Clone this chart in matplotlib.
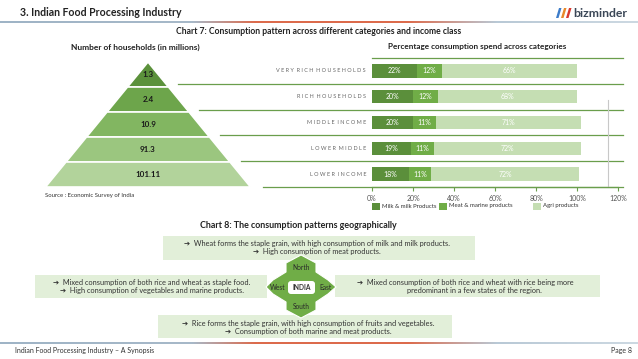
import numpy as np
import matplotlib
matplotlib.use("Agg")
import matplotlib.pyplot as plt
from matplotlib.patches import Polygon, Rectangle, FancyBboxPatch
from matplotlib.colors import LinearSegmentedColormap

plt.rcParams['font.family'] = ['Lato', 'DejaVu Sans']

# ---- data ----
households = [1.3, 2.4, 10.9, 91.3, 101.11]          # top tier first
income_classes = ["VERY RICH HOUSEHOLDS", "RICH HOUSEHOLDS", "MIDDLE INCOME",
                  "LOWER MIDDLE", "LOWER INCOME"]
milk = [22, 20, 20, 19, 18]
meat = [12, 12, 11, 11, 11]
agri = [66, 68, 71, 72, 72]
series_names = ["Milk & milk Products", "Meat & marine products", "Agri products"]
x_ticks = [0, 20, 40, 60, 80, 100, 120]

north_text = ["\u2794  Wheat forms the staple grain, with high consumption of milk and milk products.",
              "\u2794  High consumption of meat products."]
west_text = ["\u2794  Mixed consumption of both rice and wheat as staple food.",
             "\u2794  High consumption of vegetables and marine products."]
east_text = ["\u2794  Mixed consumption of both rice and wheat with rice being more",
             "predominant in a few states of the region."]
south_text = ["\u2794  Rice forms the staple grain, with high consumption of fruits and vegetables.",
              "\u2794  Consumption of both marine and meat products."]

W, H = 638, 359
fig = plt.figure(figsize=(W / 100, H / 100), dpi=100)

# overlay axes in pixel coordinates for the slide furniture
ov = fig.add_axes([0, 0, 1, 1])
ov.axis('off')

# header / footer lines
cmap = LinearSegmentedColormap.from_list(
    "hdr", [(0, "#9fb4c6"), (0.3, "#a7b9c9"), (0.40, "#dc6b4c"),
            (0.64, "#dc6b4c"), (0.78, "#b9c9d6"), (1, "#cdd9e2")])
grad = np.linspace(0, 1, 256).reshape(1, -1)
ov.imshow(grad, cmap=cmap, extent=(0, W, 23.2, 21.8), aspect='auto')
ov.imshow(grad, cmap=cmap, extent=(0, W, 343.7, 342.3), aspect='auto')
ov.set_xlim(0, W)
ov.set_ylim(H, 0)

ov.text(20, 13, "3. Indian Food Processing Industry", fontsize=7.6, fontweight='bold',
        color='#222222', va='center')
ov.text(15, 350, "Indian Food Processing Industry \u2013 A Synopsis", fontsize=5.0,
        color='#333333', va='center')
ov.text(632, 350, "Page 8", fontsize=5.0, color='#333333', va='center', ha='right')

# logo
for x0, c in [(556, "#3d7cc9"), (561, "#e8892b"), (566, "#d93a2f")]:
    ov.add_patch(Polygon([(x0, 18), (x0 + 2.5, 18), (x0 + 5.5, 8), (x0 + 3, 8)],
                         closed=True, color=c, lw=0))
ov.text(573, 13.5, "bizminder", fontsize=8.8, fontweight='bold', color='#3a4656',
        va='center')

# titles
ov.text(319, 32, "Chart 7: Consumption pattern across different categories and income class",
        fontsize=6.2, fontweight='bold', ha='center', va='center', color='#222222')
ov.text(135, 47, "Number of households (in millions)", fontsize=6.0, fontweight='bold',
        ha='center', va='center', color='#222222')
ov.text(477, 47, "Percentage consumption spend across categories", fontsize=5.9,
        fontweight='bold', ha='center', va='center', color='#222222')
ov.text(298, 226, "Chart 8: The consumption patterns geographically", fontsize=6.4,
        fontweight='bold', ha='center', va='center', color='#222222')

# ---- pyramid ----
apex_x, apex_y, base_y, half_base = 148, 62, 187, 102.5
tier_cols = ["#5b913b", "#6da54b", "#82b661", "#9bc67f", "#b2d39b"]
n = len(households)
edges = np.linspace(apex_y, base_y, n + 1)
slope = half_base / (base_y - apex_y)
for i, v in enumerate(households):
    y0, y1 = edges[i], edges[i + 1]
    w0, w1 = (y0 - apex_y) * slope, (y1 - apex_y) * slope
    ov.add_patch(Polygon([(apex_x - w0, y0), (apex_x + w0, y0), (apex_x + w1, y1),
                          (apex_x - w1, y1)], closed=True, fc=tier_cols[i],
                         ec='white', lw=1.2))
    ov.text(apex_x, (y0 + y1) / 2, f"{v:g}", fontsize=5.8, fontweight='bold',
            ha='center', va='center', color='#1a1a1a')
ov.text(45, 196, "Source : Economic Survey of India", fontsize=4.3, color='#333333',
        va='center')

# ---- stacked bar chart ----
bx0, bx1, by0, by1 = 372, 618, 58, 187
ax = fig.add_axes([bx0 / W, 1 - by1 / H, (bx1 - bx0) / W, (by1 - by0) / H])
ypos = np.arange(len(income_classes))
cols = ["#5b8f3b", "#70ad47", "#c5deb3"]
left = np.zeros(len(ypos))
for vals, c, name in zip([milk, meat, agri], cols, series_names):
    bars = ax.barh(ypos, vals, left=left, height=0.52, color=c, label=name, zorder=3)
    for b, v in zip(bars, vals):
        ax.text(b.get_x() + b.get_width() / 2, b.get_y() + b.get_height() / 2, f"{v}%",
                ha='center', va='center', fontsize=5, color='white', zorder=4)
    left += np.array(vals)
ax.set_xlim(0, 120)
ax.set_ylim(len(ypos) - 0.5, -0.5)
ax.set_yticks([])
ax.set_xticks(x_ticks)
ax.set_xticklabels([f"{t}%" for t in x_ticks], fontsize=5, color='#555555')
ax.tick_params(axis='x', length=3, color='#6a9e4c', width=0.8, pad=3)
for s in ['top', 'right', 'left']:
    ax.spines[s].set_visible(False)
ax.spines['bottom'].set_color('#6a9e4c')
ax.spines['bottom'].set_linewidth(0.9)
ax.set_facecolor('none')

# top rule and row separators extending from the pyramid edge
ov.plot([bx0, 623], [by0, by0], color='#6a9e4c', lw=0.9)
for i in range(n):
    yl = by0 + (i + 1) * (by1 - by0) / n
    xs = apex_x + (yl - apex_y) * slope + 12
    ov.plot([xs, 623], [yl, yl], color='#6a9e4c', lw=0.9)
    yc = by0 + (i + 0.5) * (by1 - by0) / n
    ov.text(366, yc, " ".join(income_classes[i]).replace("   ", "  "), fontsize=4.0,
            color='#666666', ha='right', va='center')
ov.plot([608, 608], [100, 186], color='#c8c8c8', lw=0.8)

# legend
for xq, c, name in zip([372, 439, 533], cols, series_names):
    ov.add_patch(Rectangle((xq, 202.5), 8, 7, color=c, lw=0))
    ov.text(xq + 10, 206, name, fontsize=4.3, color='#333333', va='center')

# ---- chart 8: geography ----
box_c = "#e2efd9"
boxes = [((163, 236, 475, 260), north_text, (317, 317), (243.5, 251.5)),
         ((35, 275, 267, 298), west_text, (152, 152), (282.5, 291)),
         ((335, 275, 600, 297), east_text, (465, 474), (282.5, 291)),
         ((158, 315, 452, 338), south_text, (308, 308), (323, 331.5))]
for (x0, y0, x1, y1), lines, cxs, ys in boxes:
    ov.add_patch(Rectangle((x0, y0), x1 - x0, y1 - y0, fc=box_c, lw=0))
    for t, tx, ty in zip(lines, cxs, ys):
        ov.text(tx, ty, t, fontsize=5.3, color='#333333', ha='center', va='center')

cx, cy = 301, 287
star = [(cx, 255), (cx + 15, 263), (cx + 15, 272), (cx + 27, 280), (336, cy),
        (cx + 27, 294), (cx + 15, 302), (cx + 15, 310), (cx, 318), (cx - 15, 310),
        (cx - 15, 302), (cx - 28, 294), (266, cy), (cx - 28, 280), (cx - 15, 272),
        (cx - 15, 263)]
ov.add_patch(Polygon(star, closed=True, fc="#70ad47", ec='white', lw=0.8))
ov.add_patch(FancyBboxPatch((288, 281), 27, 13, boxstyle="round,pad=0,rounding_size=3",
                            fc='white', ec='none'))
ov.text(cx + 0.5, cy + 0.5, "INDIA", fontsize=4.8, fontweight='bold', ha='center',
        va='center', color='#333333')
ov.text(cx, 267.5, "North", fontsize=4.8, ha='center', va='center', color='#2a2a2a')
ov.text(cx, 306.5, "South", fontsize=4.8, ha='center', va='center', color='#2a2a2a')
ov.text(277.5, cy + 0.5, "West", fontsize=4.8, ha='center', va='center', color='#2a2a2a')
ov.text(326, cy + 0.5, "East", fontsize=4.8, ha='center', va='center', color='#2a2a2a')

fig.savefig("out.png", dpi=100)
